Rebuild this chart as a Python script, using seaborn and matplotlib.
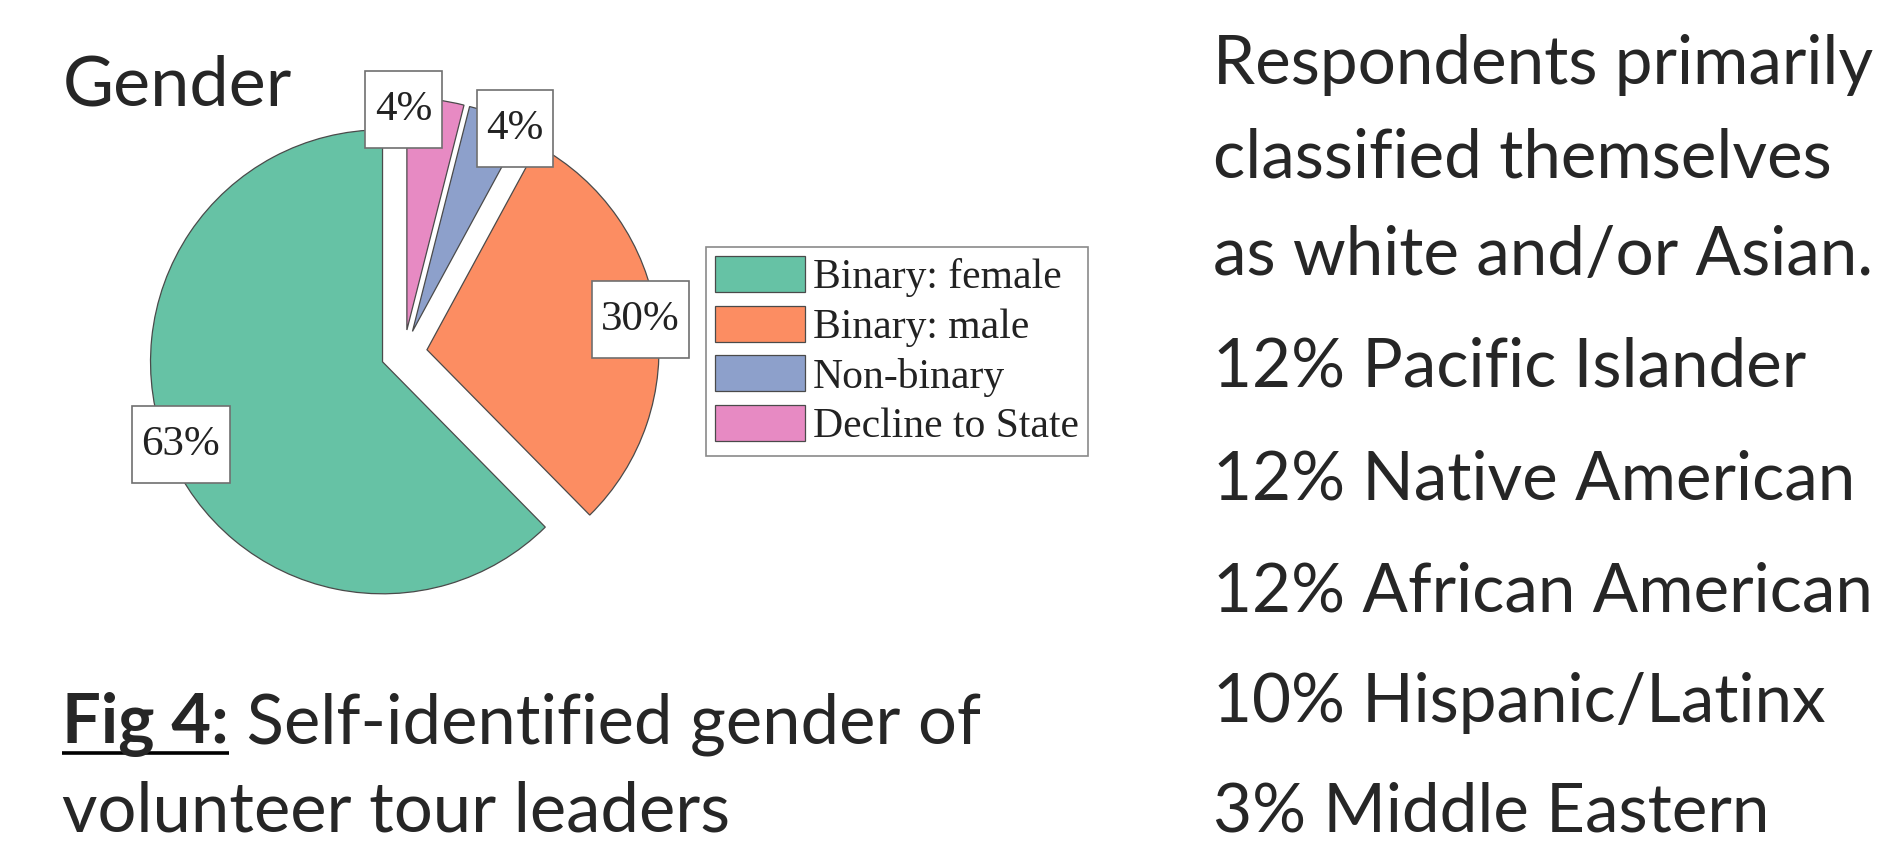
import numpy as np
import matplotlib
matplotlib.use("Agg")
import matplotlib.pyplot as plt
import seaborn as sns
from matplotlib.lines import Line2D
from matplotlib.path import Path

# ---------------- data ----------------
categories = ["Binary: female", "Binary: male", "Non-binary", "Decline to State"]
shares = [63, 30, 4, 4]
pct_labels = ["63%", "30%", "4%", "4%"]
chart_title = "Gender"
caption_bold = "Fig 4:"
caption_rest = " Self-identified gender of"
caption_line2 = "volunteer tour leaders"
side_lines = [
    "Respondents primarily",
    "classified themselves",
    "as white and/or Asian.",
    "12% Pacific Islander",
    "12% Native American",
    "12% African American",
    "10% Hispanic/Latinx",
    "3% Middle Eastern",
]

# ---------------- style ----------------
sns.set_style("white")
W, H = 1899, 844
fig = plt.figure(figsize=(W / 100, H / 100), dpi=100)
fig.patch.set_facecolor("white")


def fx(px):
    return px / W


def fy(py):
    return 1 - py / H


SERIF = ["Liberation Serif", "DejaVu Serif"]
SANS = ["Lato", "DejaVu Sans"]


def label_box(x0, y0, width, height, mutation_size):
    padx = 0.22 * mutation_size
    pady = 0.44 * mutation_size
    xa, xb = x0 - padx, x0 + width + padx
    ya, yb = y0 - pady, y0 + height + pady
    return Path([(xa, ya), (xb, ya), (xb, yb), (xa, yb), (xa, ya)],
                closed=True)


# ---------------- pie ----------------
R_PX = 232
CX, CY = 404, 353
LIM = 1.3
side = 2 * LIM * R_PX
ax = fig.add_axes([fx(CX - side / 2), fy(CY + side / 2), side / W, side / H])

colors = sns.color_palette("Set2", 4)
wedges, _ = ax.pie(
    shares,
    colors=colors,
    startangle=90,
    counterclock=True,
    explode=[0.1] * 4,
    wedgeprops=dict(edgecolor="#4a4a4a", linewidth=0.9),
)
ax.set_xlim(-LIM, LIM)
ax.set_ylim(-LIM, LIM)
ax.set_aspect("equal")
ax.axis("off")

label_nudge_deg = [0, 0, -5.5, 8]
label_dist = [0.94, 0.93, 0.98, 0.95]
for w, txt, dth, dist in zip(wedges, pct_labels, label_nudge_deg, label_dist):
    th = np.deg2rad((w.theta1 + w.theta2) / 2 + dth)
    cx, cy = w.center
    ax.text(
        cx + dist * np.cos(th),
        cy + dist * np.sin(th),
        txt,
        ha="center",
        va="center",
        fontsize=31,
        family=SERIF,
        color="#222222",
        bbox=dict(boxstyle=label_box, fc="white", ec="#707070", lw=1.2),
        zorder=5,
    )

leg = fig.legend(
    wedges,
    categories,
    loc="upper left",
    bbox_to_anchor=(fx(706), fy(247)),
    bbox_transform=fig.transFigure,
    prop=dict(family=SERIF, size=30),
    frameon=True,
    fancybox=False,
    shadow=False,
    framealpha=1,
    borderpad=0.22,
    labelspacing=0.2,
    handlelength=2.15,
    handleheight=0.95,
    handletextpad=0.2,
    borderaxespad=0,
)
leg.get_frame().set_edgecolor("#8a8a8a")
leg.get_frame().set_linewidth(1.2)
for t in leg.get_texts():
    t.set_color("#222222")

# ---------------- sans text ----------------
renderer = fig.canvas.get_renderer()


def text_width(s, size, weight="normal"):
    t = fig.text(0, 0, s, fontsize=size, family=SANS, weight=weight)
    w = t.get_window_extent(renderer).width
    t.remove()
    return w


base = 50.0
fs = base * 668 / text_width(caption_line2, base)
fs_side = fs * 0.98

fig.text(fx(63), fy(106), chart_title, fontsize=fs * 1.02, family=SANS,
         va="baseline", ha="left")

side_baselines = [84, 178, 275, 387, 499, 611, 722, 831]
for s, yb in zip(side_lines, side_baselines):
    fig.text(fx(1213), fy(yb), s, fontsize=fs_side, family=SANS,
             va="baseline", ha="left")

cap_y1, cap_y2 = 743, 832
tb = fig.text(fx(62), fy(cap_y1), caption_bold, fontsize=fs, family=SANS,
              weight="bold", va="baseline", ha="left")
bw = tb.get_window_extent(renderer).width
fig.text(fx(62 + bw), fy(cap_y1), caption_rest, fontsize=fs, family=SANS,
         va="baseline", ha="left")
fig.add_artist(Line2D([fx(62), fx(62 + bw)], [fy(cap_y1 + 10), fy(cap_y1 + 10)],
                      transform=fig.transFigure, color="black", lw=2.6,
                      solid_capstyle="butt"))
fig.text(fx(62), fy(cap_y2), caption_line2, fontsize=fs, family=SANS,
         va="baseline", ha="left")

fig.savefig("out.png", dpi=100, facecolor="white")
